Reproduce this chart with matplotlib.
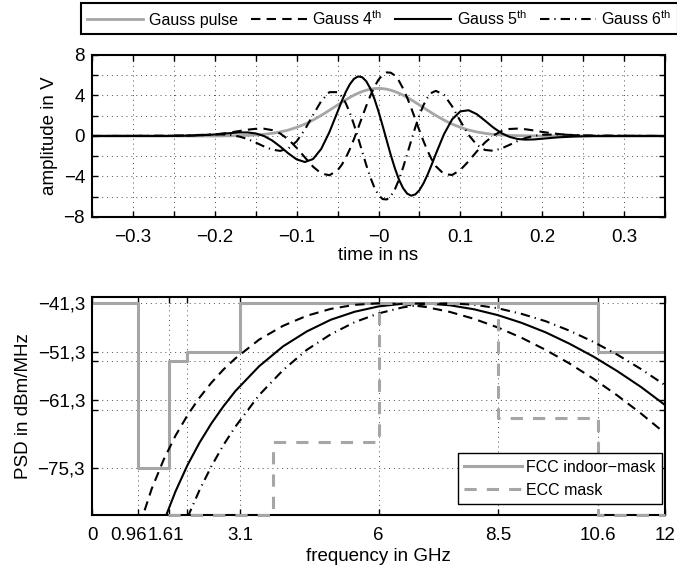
import matplotlib
matplotlib.use('Agg')
import matplotlib.pyplot as plt
import matplotlib.transforms as mtransforms
import numpy as np

plt.rcParams['font.family'] = ['Liberation Sans', 'DejaVu Sans']
plt.rcParams['mathtext.fontset'] = 'custom'
plt.rcParams['mathtext.rm'] = 'Liberation Sans'
plt.rcParams['mathtext.it'] = 'Liberation Sans:italic'

# ---- Zeitbereich (ns / V) ----
t_ns = [-0.35, -0.26, -0.24, -0.22, -0.20, -0.19, -0.18, -0.17, -0.16, -0.15,
        -0.14, -0.13, -0.12, -0.11, -0.10, -0.09, -0.08, -0.07, -0.06, -0.05,
        -0.045, -0.04, -0.035, -0.03, -0.025, -0.02, -0.015, -0.01, -0.005, 0.0,
        0.005, 0.01, 0.015, 0.02, 0.025, 0.03, 0.035, 0.04, 0.045, 0.05,
        0.055, 0.06, 0.065, 0.07, 0.08, 0.09, 0.10, 0.11, 0.12, 0.13,
        0.14, 0.15, 0.16, 0.17, 0.18, 0.19, 0.20, 0.22, 0.24, 0.26, 0.35]
gauss_pulse = [0, 0, 0, 0, 0.0, 0.01, 0.02, 0.03, 0.06, 0.10,
               0.16, 0.26, 0.40, 0.59, 0.85, 1.17, 1.57, 2.03, 2.54, 3.06,
               3.32, 3.57, 3.81, 4.03, 4.22, 4.39, 4.52, 4.62, 4.68, 4.70,
               4.68, 4.62, 4.52, 4.39, 4.22, 4.03, 3.81, 3.57, 3.32, 3.06,
               2.80, 2.54, 2.28, 2.03, 1.57, 1.17, 0.85, 0.59, 0.40, 0.26,
               0.16, 0.10, 0.06, 0.03, 0.02, 0.01, 0.0, 0, 0, 0, 0]
gauss4 = [0, 0.01, 0.02, 0.06, 0.16, 0.24, 0.36, 0.49, 0.62, 0.71,
          0.72, 0.58, 0.24, -0.35, -1.17, -2.11, -3.03, -3.70, -3.88, -3.39,
          -2.86, -2.16, -1.30, -0.31, 0.76, 1.87, 2.96, 3.97, 4.86, 5.56,
          6.04, 6.28, 6.25, 5.97, 5.44, 4.69, 3.78, 2.75, 1.65, 0.54,
          -0.52, -1.48, -2.32, -2.98, -3.77, -3.85, -3.35, -2.50, -1.53, -0.65,
          0.03, 0.47, 0.69, 0.73, 0.66, 0.54, 0.40, 0.19, 0.07, 0.02, 0]
gauss5 = [0, 0.0, 0.02, 0.06, 0.15, 0.22, 0.29, 0.35, 0.35, 0.25,
          0.00, -0.44, -1.05, -1.73, -2.31, -2.57, -2.28, -1.28, 0.38, 2.40,
          3.42, 4.35, 5.11, 5.64, 5.88, 5.81, 5.41, 4.69, 3.67, 2.42,
          1.02, -0.44, -1.88, -3.19, -4.31, -5.15, -5.69, -5.90, -5.77, -5.35,
          -4.67, -3.81, -2.82, -1.78, 0.18, 1.65, 2.43, 2.54, 2.16, 1.52,
          0.85, 0.29, -0.09, -0.30, -0.36, -0.34, -0.27, -0.13, -0.05, -0.01, 0]
gauss6 = [0, 0.02, 0.05, 0.10, 0.16, 0.15, 0.09, -0.06, -0.30, -0.65,
          -1.03, -1.35, -1.47, -1.23, -0.53, 0.63, 2.06, 3.45, 4.33, 4.33,
          3.92, 3.24, 2.29, 1.13, -0.16, -1.52, -2.86, -4.08, -5.10, -5.83,
          -6.23, -6.27, -5.94, -5.27, -4.31, -3.12, -1.80, -0.44, 0.88, 2.07,
          3.06, 3.81, 4.27, 4.46, 4.07, 2.92, 1.47, 0.11, -0.87, -1.38,
          -1.46, -1.24, -0.88, -0.50, -0.19, 0.01, 0.12, 0.15, 0.09, 0.04, 0]

# ---- Spektrum (GHz / dBm/MHz) ----
f4 = [1.0, 1.25, 1.5, 1.75, 2.0, 2.25, 2.5, 2.75, 3.0, 3.5, 4.0, 4.5, 5.0, 5.5,
      6.0, 6.5, 7.0, 7.5, 8.0, 8.5, 9.0, 9.5, 10.0, 10.5, 11.0, 11.5, 12.0]
psd4 = [-87.1, -79.6, -73.6, -68.6, -64.4, -60.8, -57.7, -55.0, -52.7, -48.8,
        -45.96, -43.87, -42.46, -41.62, -41.30, -41.47, -42.08, -43.10, -44.51,
        -46.30, -48.44, -50.92, -53.73, -56.87, -60.32, -64.08, -68.14]
f5 = [1.5, 1.75, 2.0, 2.25, 2.5, 2.75, 3.0, 3.5, 4.0, 4.5, 5.0, 5.5, 6.0,
      6.5, 7.0, 7.5, 8.0, 8.5, 9.0, 9.5, 10.0, 10.5, 11.0, 11.5, 12.0]
psd5 = [-86.4, -80.1, -74.7, -70.1, -66.1, -62.6, -59.45, -54.3, -50.2, -47.1,
        -44.7, -43.05, -41.95, -41.40, -41.33, -41.72, -42.54, -43.75, -45.35,
        -47.3, -49.65, -52.3, -55.3, -58.6, -62.3]
f6 = [2.0, 2.25, 2.5, 2.75, 3.0, 3.5, 4.0, 4.5, 5.0, 5.5, 6.0, 6.5, 7.0, 7.5,
      8.0, 8.5, 9.0, 9.5, 10.0, 10.5, 11.0, 11.5, 12.0]
psd6 = [-85.5, -79.9, -74.95, -70.6, -66.8, -60.25, -55.1, -50.9, -47.7, -45.2,
        -43.4, -42.16, -41.47, -41.31, -41.6, -42.33, -43.5, -45.0, -46.96,
        -49.26, -51.9, -54.9, -58.2]

# Masken
fcc_f = [0, 0.96, 1.61, 1.99, 3.1, 10.6, 12]
fcc_p = [-41.3, -75.3, -53.3, -51.3, -41.3, -51.3, -51.3]
ecc_f = [1.6, 3.8, 6.0, 8.5, 10.6, 12]
ecc_p = [-85, -70, -41.3, -65, -85, -85]

# Achsenbeschriftung
f_ticks = [0, 0.96, 1.61, 1.99, 3.1, 6, 8.5, 10.6, 12]
f_ticklabels = ['0', '0.96', '1.61', '', '3.1', '6', '8.5', '10.6', '12']
p_ticks = [-75.3, -63.3, -61.3, -53.3, -51.3, -41.3]
p_ticklabels = ['\u221275,3', '', '\u221261,3', '', '\u221251,3', '\u221241,3']

gray = '#a6a6a6'
dash = (0, (4.5, 3))
dashdot = (0, (4.5, 2.4, 0.6, 2.4))
fs = 13.5


def style(ax):
    ax.tick_params(direction='in', top=True, right=True, length=4, width=1,
                   labelsize=fs, pad=5)
    ax.tick_params(axis='x', pad=8.5)
    for s in ax.spines.values():
        s.set_linewidth(1.5)
    ax.grid(True, linestyle=(0, (1, 4)), color='0.3', linewidth=0.7)
    ax.set_axisbelow(True)


fig = plt.figure(figsize=(6.77, 5.71), dpi=100)
ax1 = fig.add_axes([0.1359, 0.620, 0.8464, 0.2837])
ax2 = fig.add_axes([0.1359, 0.0981, 0.8464, 0.3818])

# oben: Pulse
h0, = ax1.plot(t_ns, gauss_pulse, color=gray, lw=2.0, label='Gauss pulse')
h4, = ax1.plot(t_ns, gauss4, color='k', lw=1.5, linestyle=dash,
               label='Gauss 4$^{\\mathrm{th}}$')
h5, = ax1.plot(t_ns, gauss5, color='k', lw=1.5, label='Gauss 5$^{\\mathrm{th}}$')
h6, = ax1.plot(t_ns, gauss6, color='k', lw=1.5, linestyle=dashdot,
               label='Gauss 6$^{\\mathrm{th}}$')
ax1.set_xlim(-0.35, 0.35)
ax1.set_ylim(-8, 8)
xt = np.round(np.arange(-0.35, 0.3501, 0.05), 2)
ax1.set_xticks(xt)
ax1.set_xticklabels([('%g' % v).replace('-', '\u2212') if abs(round(v * 10) - v * 10) < 1e-6 else ''
                     for v in xt])
yt = np.arange(-8, 9, 2)
ax1.set_yticks(yt)
ax1.set_yticklabels([('%d' % v).replace('-', '\u2212') if v % 4 == 0 else '' for v in yt])
ax1.set_xlabel('time in ns', fontsize=fs, labelpad=1)
ax1.set_ylabel('amplitude in V', fontsize=fs)
style(ax1)

# unten: Spektrum
hf, = ax2.step(fcc_f, fcc_p, where='post', color=gray, lw=2.2,
               label='FCC indoor\u2212mask')
he, = ax2.step(ecc_f, ecc_p, where='post', color=gray, lw=2.2,
               linestyle=(0, (4, 3.3)), label='ECC mask', clip_on=False, zorder=3)
ax2.plot(f4, psd4, color='k', lw=1.5, linestyle=dash)
ax2.plot(f5, psd5, color='k', lw=1.5)
ax2.plot(f6, psd6, color='k', lw=1.5, linestyle=dashdot)
ax2.set_xlim(0, 12)
ax2.set_ylim(-85, -40)
ax2.set_xticks(f_ticks)
ax2.set_xticklabels(f_ticklabels)
ax2.set_yticks(p_ticks)
ax2.set_yticklabels(p_ticklabels)
ax2.set_xlabel('frequency in GHz', fontsize=fs, labelpad=3)
ax2.set_ylabel('PSD in dBm/MHz', fontsize=fs)
style(ax2)

# eng beieinander liegende Beschriftungen etwas verschieben
labs = ax2.get_xticklabels()
for lab, dx in ((labs[1], -9), (labs[2], -3)):
    lab.set_transform(lab.get_transform() +
                      mtransforms.ScaledTranslation(dx / 100, 0, fig.dpi_scale_trans))

leg2 = ax2.legend(handles=[hf, he], loc='lower right', bbox_to_anchor=(0.995, 0.05),
                  fontsize=11.5, fancybox=False, edgecolor='k', framealpha=1,
                  handlelength=3.6, handletextpad=0.3, borderaxespad=0)
leg2.get_frame().set_linewidth(1.0)

leg1 = fig.legend(handles=[h0, h4, h5, h6], loc='upper left',
                  bbox_to_anchor=(81 / 677, 1 - 3 / 571), ncol=4, fontsize=11.5,
                  fancybox=False, edgecolor='k', framealpha=1, handlelength=3.5,
                  handletextpad=0.35, columnspacing=0.8, borderpad=0.4,
                  borderaxespad=0)
leg1.get_frame().set_linewidth(1.5)

fig.savefig('out.png', dpi=100)
